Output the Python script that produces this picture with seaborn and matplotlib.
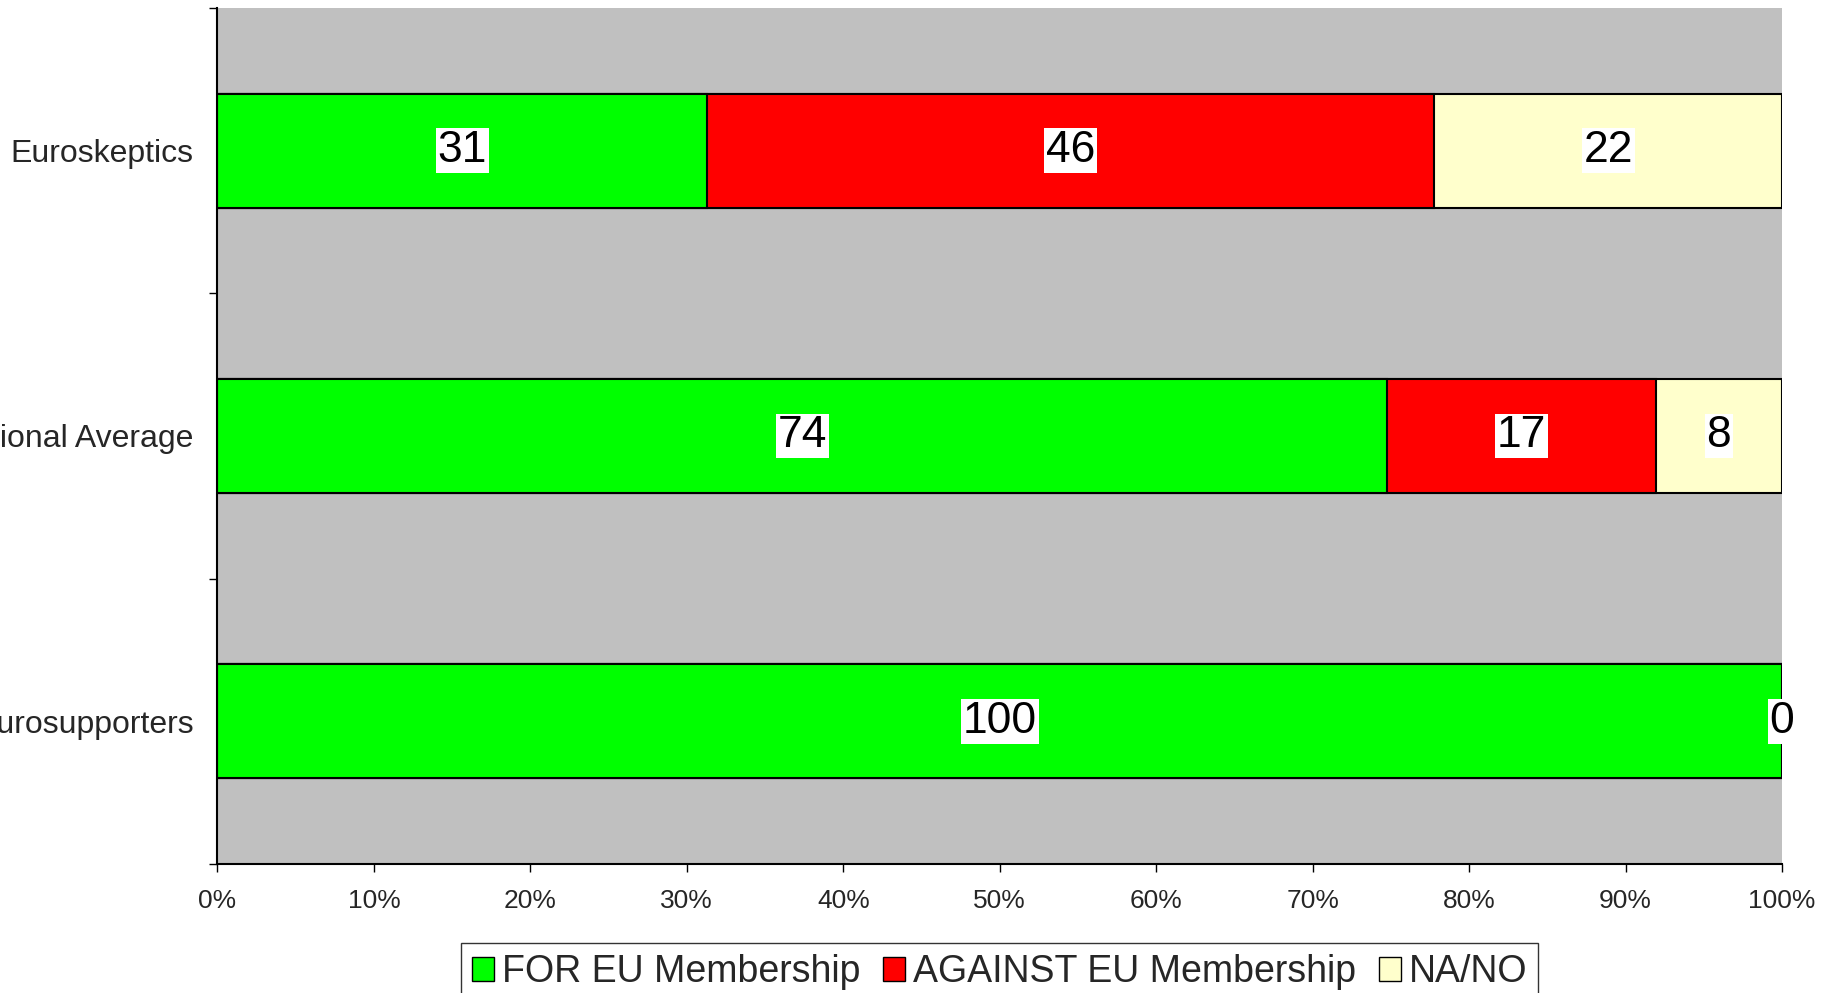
import numpy as np
import pandas as pd
import matplotlib
matplotlib.use("Agg")
import matplotlib.pyplot as plt
from matplotlib import font_manager
from matplotlib.patches import Patch
import seaborn as sns

# survey shares (raw counts as printed on the bars)
groups = ["Euroskeptics", "National Average", "Eurosupporters"]
for_eu = [31, 74, 100]
against_eu = [46, 17, 0]
na_no = [22, 8, 0]

series_names = ["FOR EU Membership", "AGAINST EU Membership", "NA/NO"]
series_colors = ["#00FF00", "#FF0000", "#FFFFCC"]
x_ticks = [0, 10, 20, 30, 40, 50, 60, 70, 80, 90, 100]

sns.set_style("white")
installed = {f.name for f in font_manager.fontManager.ttflist}
narrow = "Liberation Sans Narrow" if "Liberation Sans Narrow" in installed else "Liberation Sans"
plt.rcParams["font.family"] = ["Liberation Sans", "DejaVu Sans"]
label_size = 36 if narrow != "Liberation Sans" else 32
legend_size = 32 if narrow != "Liberation Sans" else 27

df = pd.DataFrame({
    "group": groups,
    "for": for_eu,
    "against": against_eu,
    "na": na_no,
})
row_total = df[["for", "against", "na"]].sum(axis=1)
df["p_for"] = df["for"] / row_total * 100
df["p_against"] = df["against"] / row_total * 100
df["p_na"] = df["na"] / row_total * 100
df["cum_for"] = df["p_for"]
df["cum_against"] = df["p_for"] + df["p_against"]
df["cum_na"] = df["cum_against"] + df["p_na"]

fig = plt.figure(figsize=(18.24, 9.93), dpi=100)
ax = fig.add_axes([0.1192, 0.1299, 0.977 - 0.1192, 0.992 - 0.1299])
ax.set_facecolor("#C0C0C0")

# stacked bars: draw the running totals back to front
for col, color in zip(["cum_na", "cum_against", "cum_for"], series_colors[::-1]):
    sns.barplot(data=df, x=col, y="group", order=groups, orient="h",
                color=color, edgecolor="black", linewidth=1.5, width=0.4,
                errorbar=None, saturation=1, ax=ax)

# value labels in the middle of each segment
for i, row in df.iterrows():
    starts = [0, row["cum_for"], row["cum_against"]]
    widths = [row["p_for"], row["p_against"], row["p_na"]]
    values = [row["for"], row["against"], row["na"]]
    for s, w, v in zip(starts, widths, values):
        ax.text(s + w / 2, i, f"{v}", ha="center", va="center",
                fontsize=label_size, family=[narrow, "DejaVu Sans"], color="black",
                bbox=dict(boxstyle="square,pad=0.04", facecolor="white", edgecolor="none"))

ax.set_xlim(0, 100)
ax.set_ylim(2.5, -0.5)
ax.set_xticks(x_ticks)
ax.set_xticklabels([f"{t}%" for t in x_ticks], fontsize=19)
ax.set_yticks(range(len(groups)))
ax.set_yticklabels(groups, fontsize=23)
ax.set_yticks([-0.5, 0.5, 1.5, 2.5], minor=True)
ax.tick_params(axis="y", which="major", length=0, pad=17)
ax.tick_params(axis="y", which="minor", left=True, length=6, width=1, color="black")
ax.tick_params(axis="x", which="major", bottom=True, direction="out", length=6,
               width=1, color="black", pad=12)
ax.set_xlabel("")
ax.set_ylabel("")

for side in ["top", "right"]:
    ax.spines[side].set_visible(False)
for side in ["left", "bottom"]:
    ax.spines[side].set_color("black")
    ax.spines[side].set_linewidth(1.5)

handles = [Patch(facecolor=c, edgecolor="black", linewidth=1) for c in series_colors]
leg = fig.legend(handles, series_names, loc="upper center",
                 bbox_to_anchor=(0.548, 0.0503), ncol=3, frameon=True,
                 fancybox=False, borderaxespad=0, handlelength=0.6, handleheight=0.6,
                 handletextpad=0.2, columnspacing=0.6, borderpad=0.3,
                 prop={"family": [narrow, "DejaVu Sans"], "size": legend_size})
leg.get_frame().set_edgecolor("black")
leg.get_frame().set_linewidth(1)

fig.savefig("out.png", dpi=100)
